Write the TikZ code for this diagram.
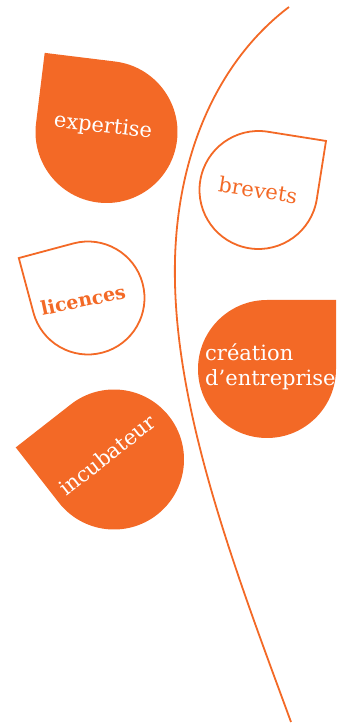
\documentclass[tikz,border=0pt]{standalone}
\usepackage{fontspec}
\setmainfont{DejaVu Serif}
\definecolor{leaforange}{RGB}{243,105,38}
\tikzset{
  leaf/.pic={\path[pic actions] (-#1,#1) -- (0,#1) arc[start angle=90, end angle=-180, radius=#1pt] -- cycle;}
}
\begin{document}
\begin{tikzpicture}[
  x=1pt, y=1pt,
  solid leaf/.style={fill=leaforange},
  open leaf/.style={draw=leaforange, line width=1.8pt, fill=white},
  label/.style={font=\fontsize{21}{25}\selectfont, inner sep=0pt},
]
\useasboundingbox (0,0) rectangle (338,723);
\coordinate (stemtop) at (289,716);
\coordinate (stemmid) at (175,440);
\coordinate (stembot) at (291,1);
\draw[leaforange, line width=1.8pt] (stemtop) .. controls (215,660) and (172,560) .. (stemmid)
  .. controls (178,300) and (240,140) .. (stembot);

\pic[solid leaf, rotate=-7] at (106.5,591) {leaf=71};
\pic[open leaf, rotate=-99] at (258.5,533) {leaf=59};
\pic[open leaf, rotate=15] at (88,425) {leaf=56.5};
\pic[solid leaf, rotate=-90] at (267,354) {leaf=69};
\pic[solid leaf, rotate=38] at (114,263.5) {leaf=70};

\node[label, text=white, rotate=-7] (expertise) at (103,596) {expertise};
\node[label, text=leaforange, rotate=-9] (brevets) at (258,533) {brevets};
\node[label, text=leaforange, rotate=12, font=\fontsize{19}{23}\selectfont\bfseries] (licences) at (83,423) {licences};
\node[label, text=white, align=left, anchor=west] (creation) at (205,356) {création\\d’entreprise};
\node[label, text=white, rotate=38] (incubateur) at (107,268) {incubateur};
\end{tikzpicture}
\end{document}
